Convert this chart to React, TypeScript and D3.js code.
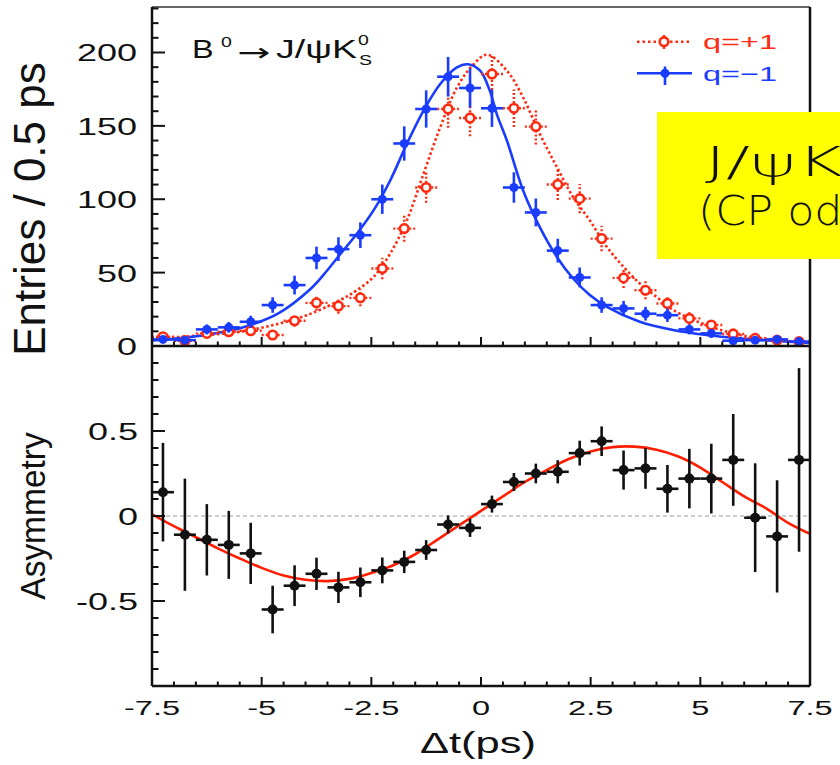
import React from "react";
import * as d3 from "d3";

// ---------- data ----------
const binCenters = [-7.25, -6.75, -6.25, -5.75, -5.25, -4.75, -4.25, -3.75, -3.25, -2.75, -2.25, -1.75, -1.25, -0.75, -0.25, 0.25, 0.75, 1.25, 1.75, 2.25, 2.75, 3.25, 3.75, 4.25, 4.75, 5.25, 5.75, 6.25, 6.75, 7.25];
const binHalfWidth = 0.25;

const qPlusCounts = [6.3, 3.6, 8.6, 9.7, 10.4, 7.5, 17.2, 29.4, 27.2, 32.8, 52.8, 80, 108, 161.5, 155.4, 185.3, 162, 149.5, 110, 100.4, 73.2, 46.4, 38, 29, 18.8, 14.3, 8.2, 5.2, 4, 3];
const qPlusErr = [2.5, 1.9, 2.9, 3.1, 3.2, 2.7, 4.1, 5.4, 5.2, 5.7, 7.3, 8.9, 10.4, 12.7, 12.5, 13.6, 12.7, 12.2, 10.5, 10, 8.6, 6.8, 6.2, 5.4, 4.3, 3.8, 2.9, 2.3, 2, 1.7];

const qMinusCounts = [4.5, 4, 11.3, 12.7, 16.5, 27.9, 41.5, 60, 66, 75.5, 100, 138, 161.5, 183.5, 175.8, 162, 108, 91, 65, 46.7, 27.9, 25.6, 22, 21, 11.3, 8.6, 3.6, 4, 4.5, 3];
const qMinusErr = [2.1, 2, 3.4, 3.6, 4.1, 5.3, 6.4, 7.7, 8.1, 8.7, 10, 11.7, 12.7, 13.5, 13.3, 12.7, 10.4, 9.5, 8.1, 6.8, 5.3, 5.1, 4.7, 4.6, 3.4, 2.9, 1.9, 2, 2.1, 1.7];

const asymValues = [0.14, -0.11, -0.14, -0.17, -0.22, -0.55, -0.41, -0.34, -0.42, -0.39, -0.32, -0.27, -0.2, -0.05, -0.07, 0.07, 0.2, 0.25, 0.26, 0.37, 0.44, 0.27, 0.28, 0.16, 0.22, 0.22, 0.33, -0.01, -0.12, 0.33];
const asymErr = [0.29, 0.33, 0.21, 0.2, 0.18, 0.14, 0.12, 0.095, 0.092, 0.087, 0.076, 0.066, 0.058, 0.053, 0.053, 0.05, 0.053, 0.058, 0.068, 0.073, 0.087, 0.115, 0.12, 0.14, 0.175, 0.205, 0.27, 0.32, 0.33, 0.54];

// fit curves
const qMinusFitT = [-7.5, -6.9, -6.14, -5.38, -4.62, -3.9, -3.59, -3.21, -2.83, -2.45, -2.07, -1.69, -1.31, -0.93, -0.55, -0.3, -0.02, 0.2, 0.36, 0.59, 0.96, 1.34, 1.73, 2.1, 2.48, 2.87, 3.62, 4.38, 5.14, 5.9, 6.66, 7.5];
const qMinusFitV = [3.8, 5.2, 8.2, 13.1, 22.2, 38.5, 48.5, 62.5, 76.5, 92.4, 112.8, 137.8, 160.4, 178.5, 189.8, 192, 187.6, 174, 158, 140, 106, 81, 60.7, 46, 34.7, 26.7, 16.5, 10.9, 7.5, 5.2, 3.6, 2.1];

const qPlusFitT = [-7.5, -6.25, -5.49, -4.73, -3.97, -3.21, -2.83, -2.45, -2.07, -1.69, -1.31, -0.93, -0.55, -0.17, 0.14, 0.59, 0.96, 1.34, 1.73, 2.1, 2.48, 2.87, 3.25, 3.62, 4.0, 4.38, 5.14, 5.9, 6.66, 7.5];
const qPlusFitV = [5, 7.5, 9.7, 14.3, 21, 31.3, 38, 47.1, 63, 85.6, 117.4, 149, 176, 192, 198.5, 187.6, 169.4, 144.5, 121.9, 101.5, 85.6, 67.5, 53.9, 42.6, 33.5, 24.5, 14.3, 7.5, 4.5, 2.2];

const asymFitT = [-7.5, -7, -6.5, -6, -5.5, -5, -4.5, -4, -3.5, -3, -2.5, -2, -1.5, -1, -0.5, 0, 0.5, 1, 1.5, 2, 2.5, 3, 3.5, 4, 4.5, 5, 5.5, 6, 6.5, 7, 7.5];
const asymFitV = [0.01, -0.06, -0.125, -0.19, -0.25, -0.305, -0.35, -0.375, -0.383, -0.37, -0.335, -0.29, -0.225, -0.14, -0.055, 0.03, 0.115, 0.2, 0.27, 0.335, 0.38, 0.405, 0.408, 0.39, 0.35, 0.285, 0.2, 0.115, 0.045, -0.04, -0.105];

const xTickValues = [-7.5, -5, -2.5, 0, 2.5, 5, 7.5];
const xTickLabels = ["-7.5", "-5", "-2.5", "0", "2.5", "5", "7.5"];
const topTickValues = [0, 50, 100, 150, 200];
const topTickLabels = ["0", "50", "100", "150", "200"];
const asymTickValues = [-0.5, 0, 0.5];
const asymTickLabels = ["-0.5", "0", "0.5"];

const legendLabels = ["q=+1", "q=\u22121"];

// ---------- styling ----------
const FONT = "'Liberation Sans', Arial, Helvetica, sans-serif";
const HAND = "'DejaVu Sans', sans-serif";
const BLUE = "#1a3cff";
const RED = "#ff2a10";
const FITRED = "#ff1e00";
const W = 840;
const H = 765;

const x = d3.scaleLinear().domain([-7.5, 7.5]).range([152, 810]);
const yTop = d3.scaleLinear().domain([0, 231]).range([346, 7]);
const yBot = d3.scaleLinear().domain([-1, 1]).range([686, 346]);

type STProps = { x: number; y: number; size: number; sx?: number; anchor?: string; fill?: string; children: any };
const ST = ({ x, y, size, sx = 1, anchor = "start", fill = "#111", children }: STProps) => (
  <text transform={`translate(${x},${y}) scale(${sx},1)`} fontSize={size} textAnchor={anchor as any} fill={fill} fontFamily={FONT}>
    {children}
  </text>
);

export default function App() {
  const topLine = (T: number[], V: number[]) =>
    d3.line<number>().x((_, i) => x(T[i])).y((_, i) => yTop(V[i])).curve(d3.curveCatmullRom.alpha(0.5))(T as any) || "";
  const botLine = d3.line<number>().x((_, i) => x(asymFitT[i])).y((_, i) => yBot(asymFitV[i])).curve(d3.curveCatmullRom.alpha(0.5))(asymFitT as any) || "";

  const xMinor = d3.range(-7.5, 7.51, 0.5);
  const topMinor = d3.range(0, 231, 10);
  const botMinor = d3.range(-9, 10, 1).map((v) => v / 10);

  const x0 = x(-7.5);
  const x1 = x(7.5);

  const xTicks = (yBase: number, key: string) =>
    xMinor.map((v, i) => {
      const major = xTickValues.some((m) => Math.abs(m - v) < 1e-6);
      return <line key={key + i} x1={x(v)} x2={x(v)} y1={yBase} y2={yBase - (major ? 9 : 4.5)} stroke="#111" strokeWidth={2} />;
    });

  return (
    <div style={{ position: "absolute", left: 0, top: 0, width: W, height: H, overflow: "hidden", background: "#fff" }}>
      <svg width={W} height={H} style={{ display: "block" }}>
        <defs>
          <clipPath id="clipTop">
            <rect x={x0} y={yTop(231)} width={x1 - x0} height={yTop(0) - yTop(231)} />
          </clipPath>
          <clipPath id="clipBot">
            <rect x={x0} y={yBot(1)} width={x1 - x0} height={yBot(-1) - yBot(1)} />
          </clipPath>
        </defs>
        <rect x={0} y={0} width={W} height={H} fill="#fff" />

        {/* ---------- top panel ---------- */}
        <g clipPath="url(#clipTop)">
          <path d={topLine(qPlusFitT, qPlusFitV)} fill="none" stroke={RED} strokeWidth={2.6} strokeDasharray="2.5,2.5" />
          <path d={topLine(qMinusFitT, qMinusFitV)} fill="none" stroke={BLUE} strokeWidth={2.6} />
          {binCenters.map((t, i) => (
            <g key={"r" + i} stroke={RED} strokeWidth={2.4} strokeDasharray="2,2">
              <line x1={x(t - binHalfWidth)} x2={x(t + binHalfWidth)} y1={yTop(qPlusCounts[i])} y2={yTop(qPlusCounts[i])} />
              <line x1={x(t)} x2={x(t)} y1={yTop(qPlusCounts[i] - qPlusErr[i])} y2={yTop(qPlusCounts[i] + qPlusErr[i])} />
            </g>
          ))}
          {binCenters.map((t, i) => (
            <circle key={"rc" + i} cx={x(t)} cy={yTop(qPlusCounts[i])} r={4.3} fill="#fff" stroke={RED} strokeWidth={2.6} />
          ))}
          {binCenters.map((t, i) => (
            <g key={"b" + i} stroke={BLUE} strokeWidth={2.6}>
              <line x1={x(t - binHalfWidth)} x2={x(t + binHalfWidth)} y1={yTop(qMinusCounts[i])} y2={yTop(qMinusCounts[i])} />
              <line x1={x(t)} x2={x(t)} y1={yTop(qMinusCounts[i] - qMinusErr[i])} y2={yTop(qMinusCounts[i] + qMinusErr[i])} />
              <circle cx={x(t)} cy={yTop(qMinusCounts[i])} r={4.5} fill={BLUE} stroke="none" />
            </g>
          ))}
        </g>

        {/* top panel frame */}
        <line x1={x0} x2={x1} y1={yTop(231)} y2={yTop(231)} stroke="#333" strokeWidth={1.5} />
        <line x1={x1} x2={x1} y1={yTop(231)} y2={yTop(0)} stroke="#111" strokeWidth={2.5} />
        <line x1={x0} x2={x0} y1={yTop(231)} y2={yTop(0)} stroke="#111" strokeWidth={2.5} />
        <line x1={x0} x2={x1} y1={yTop(0)} y2={yTop(0)} stroke="#111" strokeWidth={2.5} />
        {topMinor.map((v, i) => {
          const major = topTickValues.includes(v);
          return <line key={"tt" + i} x1={x0} x2={x0 + (major ? 13 : 6.5)} y1={yTop(v)} y2={yTop(v)} stroke="#111" strokeWidth={2} />;
        })}
        {xTicks(yTop(0), "xt")}
        {topTickValues.map((v, i) => (
          <ST key={"tl" + i} x={137} y={yTop(v) + 9} size={24} sx={1.5} anchor="end">
            {topTickLabels[i]}
          </ST>
        ))}
        <text transform={`translate(45,209) rotate(-90)`} fontSize={44} textAnchor="middle" fontFamily={FONT} fill="#111">
          Entries / 0.5 ps
        </text>

        {/* title */}
        <ST x={192} y={58} size={25} sx={1.3}>B</ST>
        <ST x={221} y={47} size={15} sx={1.3}>0</ST>
        <text x={237} y={61} fontSize={25} fontFamily={HAND} fill="#111" textLength={33} lengthAdjust="spacingAndGlyphs">
          →
        </text>
        <text x={276} y={58} fontSize={25} fontFamily={FONT} fill="#111" textLength={81} lengthAdjust="spacingAndGlyphs">
          J/ψK
        </text>
        <ST x={358} y={45} size={15} sx={1.3}>0</ST>
        <ST x={359} y={65} size={15} sx={1.3}>S</ST>

        {/* legend */}
        <g>
          <line x1={637} x2={692} y1={41.7} y2={41.7} stroke={RED} strokeWidth={2.4} strokeDasharray="2.5,3" />
          <line x1={664} x2={664} y1={35} y2={50} stroke={RED} strokeWidth={2.4} strokeDasharray="2,2" />
          <circle cx={664} cy={41.7} r={4.3} fill="#fff" stroke={RED} strokeWidth={2.6} />
          <text x={703} y={48.5} fontSize={21} fontFamily={FONT} fill={RED} textLength={74} lengthAdjust="spacingAndGlyphs">
            {legendLabels[0]}
          </text>
          <line x1={637} x2={692} y1={73.3} y2={73.3} stroke={BLUE} strokeWidth={2.6} />
          <line x1={665} x2={665} y1={66.5} y2={85} stroke={BLUE} strokeWidth={2.6} />
          <circle cx={665} cy={73.3} r={4.5} fill={BLUE} />
          <text x={703} y={81} fontSize={21} fontFamily={FONT} fill={BLUE} textLength={74} lengthAdjust="spacingAndGlyphs">
            {legendLabels[1]}
          </text>
        </g>

        {/* ---------- bottom panel ---------- */}
        <line x1={x0} x2={x1} y1={yBot(0)} y2={yBot(0)} stroke="#9a9a9a" strokeWidth={1} strokeDasharray="4,3" />
        <g clipPath="url(#clipBot)">
          <path d={botLine} fill="none" stroke={FITRED} strokeWidth={2.6} />
          {binCenters.map((t, i) => (
            <g key={"a" + i} stroke="#111" strokeWidth={2.6}>
              <line x1={x(t - binHalfWidth)} x2={x(t + binHalfWidth)} y1={yBot(asymValues[i])} y2={yBot(asymValues[i])} />
              <line x1={x(t)} x2={x(t)} y1={yBot(asymValues[i] - asymErr[i])} y2={yBot(asymValues[i] + asymErr[i])} />
              <circle cx={x(t)} cy={yBot(asymValues[i])} r={5} fill="#111" stroke="none" />
            </g>
          ))}
        </g>
        <line x1={x1} x2={x1} y1={yBot(1)} y2={yBot(-1)} stroke="#111" strokeWidth={2.5} />
        <line x1={x0} x2={x0} y1={yBot(1)} y2={yBot(-1)} stroke="#111" strokeWidth={2.5} />
        <line x1={x0} x2={x1} y1={yBot(-1)} y2={yBot(-1)} stroke="#111" strokeWidth={2.5} />
        {botMinor.map((v, i) => {
          const major = asymTickValues.some((m) => Math.abs(m - v) < 1e-6);
          return <line key={"bt" + i} x1={x0} x2={x0 + (major ? 13 : 6.5)} y1={yBot(v)} y2={yBot(v)} stroke="#111" strokeWidth={2} />;
        })}
        {xTicks(yBot(-1), "xb")}
        {asymTickValues.map((v, i) => (
          <ST key={"al" + i} x={138} y={yBot(v) + 9} size={24} sx={1.5} anchor="end">
            {asymTickLabels[i]}
          </ST>
        ))}
        {xTickValues.map((v, i) => (
          <ST key={"xl" + i} x={x(v)} y={715} size={21} sx={1.55} anchor="middle">
            {xTickLabels[i]}
          </ST>
        ))}
        <text transform={`translate(45,516) rotate(-90) scale(0.93,1)`} fontSize={36} textAnchor="middle" fontFamily={FONT} fill="#111">
          Asymmetry
        </text>
        <ST x={478} y={753} size={30} sx={1.45} anchor="middle">
          Δt(ps)
        </ST>

        {/* yellow annotation box */}
        <rect x={657} y={112} width={200} height={147} fill="#ffff00" />
        <text x={705} y={176} fontSize={41} fontFamily={HAND} fontWeight={200} fill="#111" textLength={138} lengthAdjust="spacingAndGlyphs">
          J/ψK
        </text>
        <text x={698} y={225} fontSize={41} fontFamily={HAND} fontWeight={200} fill="#111" textLength={190} lengthAdjust="spacingAndGlyphs">
          (CP odd)
        </text>
      </svg>
    </div>
  );
}
